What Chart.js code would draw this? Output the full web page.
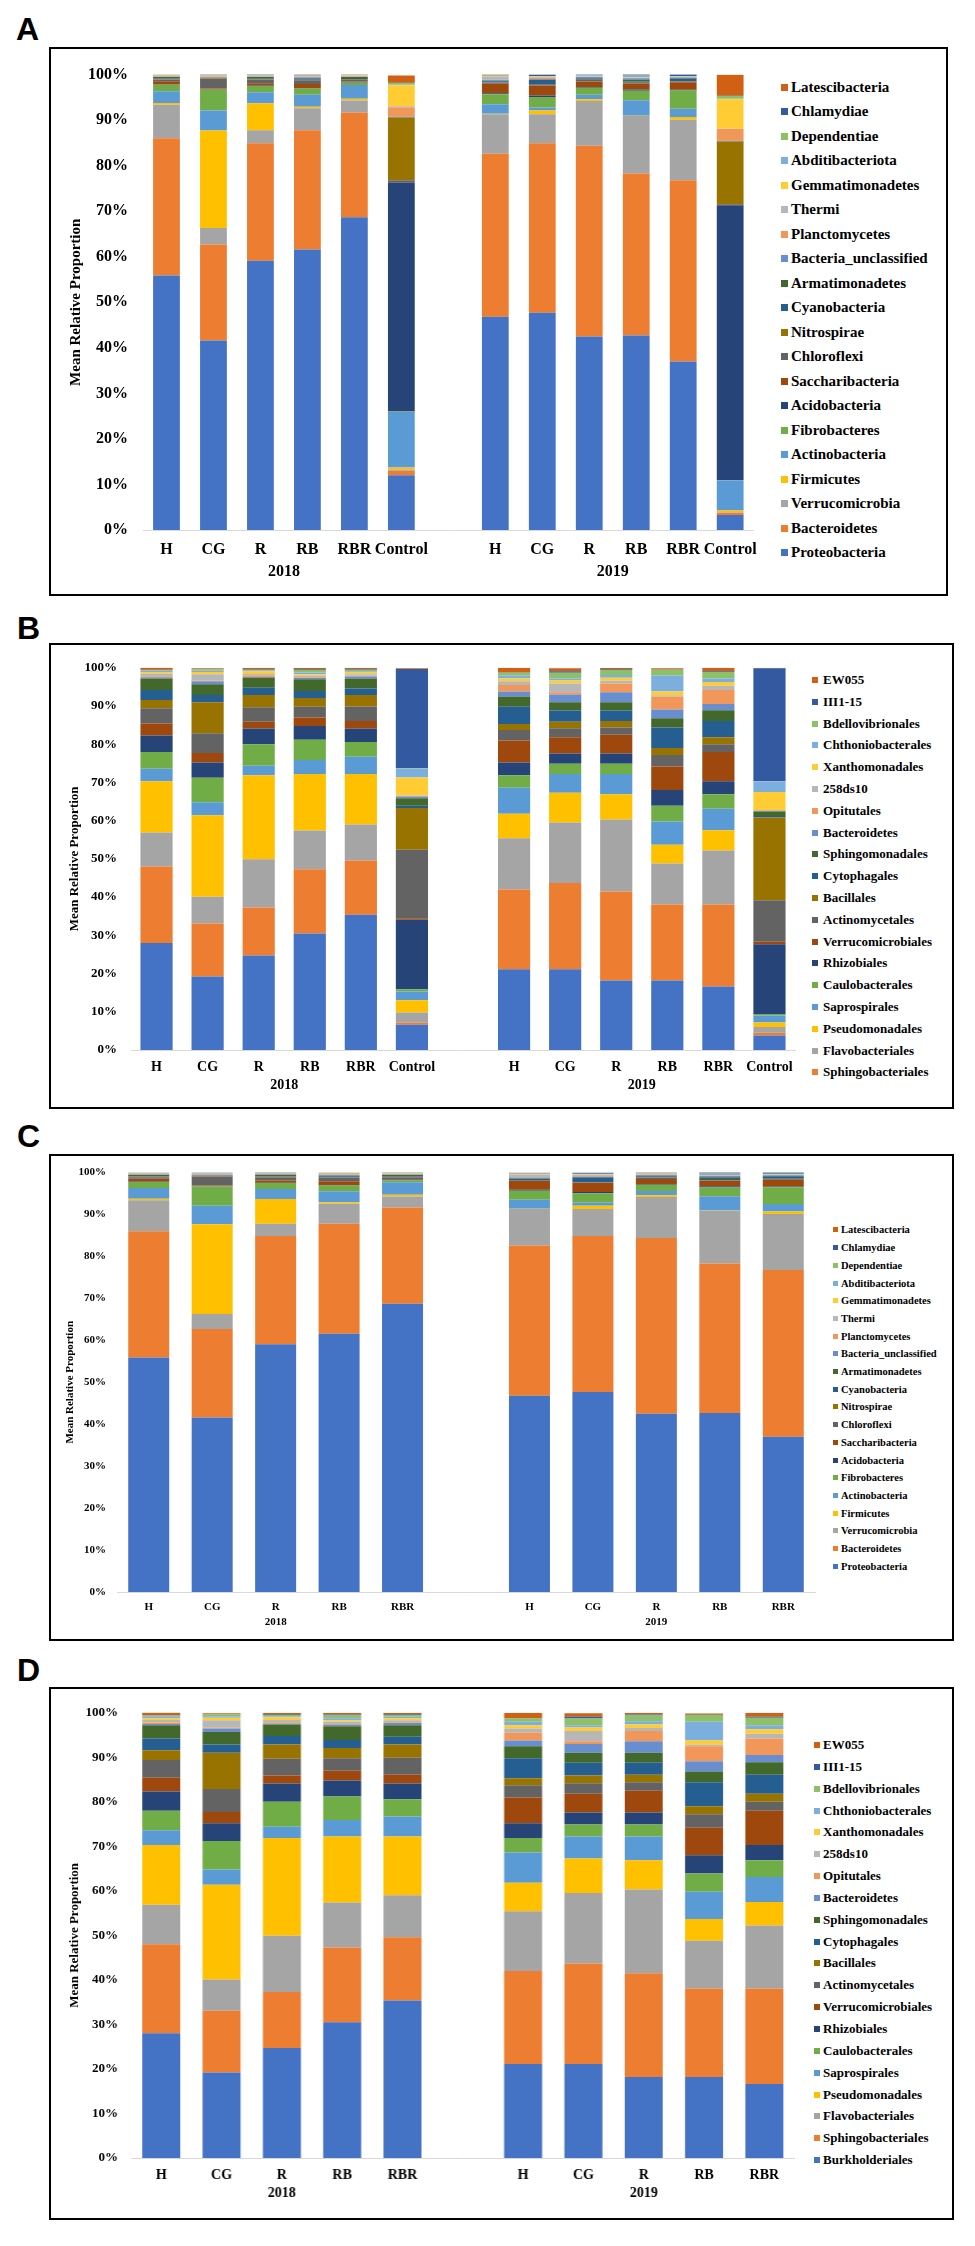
<!DOCTYPE html>
<html lang="en">
<head>
    <meta charset="UTF-8">
    <title>Mean Relative Proportion - phyla and orders</title>
    <script src="https://cdn.jsdelivr.net/npm/chart.js"></script>
    <style>
        body {
            margin: 0;
            background: #fff;
            width: 975px;
            height: 2246px;
            position: relative;
            font-family: "Liberation Serif", "Times New Roman", serif;
            overflow: hidden;
        }
        .tag {
            position: absolute;
            font: bold 32px/32px "Liberation Sans", Arial, sans-serif;
            color: #000;
        }
        .box {
            position: absolute;
            border: 2px solid #000;
            box-sizing: border-box;
        }
        .plot {
            position: absolute;
        }
        .legend-item {
            position: absolute;
            display: flex;
            align-items: center;
            font-weight: bold;
            color: #000;
            white-space: nowrap;
        }
        .legend-item span.mark {
            display: inline-block;
            flex: none;
        }
    </style>
</head>
<body>
    <div class="tag" style="left:16px; top:13px;">A</div>
    <div class="tag" style="left:17px; top:612px;">B</div>
    <div class="tag" style="left:17px; top:1120px;">C</div>
    <div class="tag" style="left:17px; top:1654px;">D</div>

    <div class="box" style="left:49px; top:47px; width:899px; height:549px;"></div>
    <div class="box" style="left:49px; top:643px; width:905px; height:466px;"></div>
    <div class="box" style="left:49px; top:1154px; width:905px; height:487px;"></div>
    <div class="box" style="left:49px; top:1687px; width:905px; height:533px;"></div>

    <div class="plot" id="wrapA"><canvas id="chartA"></canvas></div>
    <div class="plot" id="wrapB"><canvas id="chartB"></canvas></div>
    <div class="plot" id="wrapC"><canvas id="chartC"></canvas></div>
    <div class="plot" id="wrapD"><canvas id="chartD"></canvas></div>
    <div id="legends"></div>

    <script>
        // sample labels and years
        const samples = ['H', 'CG', 'R', 'RB', 'RBR', 'Control'];
        const years = ['2018', '2019'];

        // phyla, bottom of the stack first (values: 2018 H,CG,R,RB,RBR,Control, 2019 H,CG,R,RB,RBR,Control)
        const phylumNames = ['Proteobacteria', 'Bacteroidetes', 'Verrucomicrobia', 'Firmicutes', 'Actinobacteria',
            'Fibrobacteres', 'Acidobacteria', 'Saccharibacteria', 'Chloroflexi', 'Nitrospirae', 'Cyanobacteria',
            'Armatimonadetes', 'Bacteria_unclassified', 'Planctomycetes', 'Thermi', 'Gemmatimonadetes',
            'Abditibacteriota', 'Dependentiae', 'Chlamydiae', 'Latescibacteria'];

        const proteobacteria = [55.9, 41.6, 59.1, 61.6, 68.7, 12.0, 46.8, 47.7, 42.5, 42.7, 37.0, 3.3];
        const bacteroidetes = [30.1, 21.1, 25.8, 26.2, 23.0, 1.0, 35.8, 37.2, 41.9, 35.6, 39.8, 0.5];
        const verrucomicrobia = [7.4, 3.6, 2.9, 4.8, 2.6, 0.3, 8.7, 6.4, 9.8, 12.6, 13.3, 0.1];
        const firmicutes = [0.35, 21.4, 5.9, 0.35, 0.4, 0.4, 0.1, 0.8, 0.4, 0.05, 0.6, 0.4];
        const actinobacteria = [2.6, 4.4, 2.4, 2.6, 3.0, 12.2, 2.1, 0.7, 1.0, 3.4, 1.8, 6.6];
        const fibrobacteres = [1.4, 4.6, 1.4, 1.4, 0.5, 0.1, 2.2, 2.3, 1.5, 2.1, 4.0, 0.1];
        const acidobacteria = [0.1, 0.05, 0.1, 0.1, 0.1, 50.3, 0.2, 0.3, 0.2, 0.3, 0.2, 60.3];
        const saccharibacteria = [0.7, 0.2, 0.5, 0.9, 0.2, 0.1, 2.1, 2.2, 1.2, 1.3, 1.6, 0.1];
        const chloroflexi = [0.35, 2.1, 0.8, 0.8, 0.4, 0.4, 0.2, 0.1, 0.3, 0.1, 0.2, 0.2];
        const nitrospirae = [0.1, 0.1, 0.1, 0.1, 0.05, 13.8, 0.05, 0.05, 0.05, 0.05, 0.05, 13.7];
        const cyanobacteria = [0.15, 0.1, 0.1, 0.3, 0.1, 0.05, 0.3, 1.1, 0.3, 0.3, 0.6, 0.05];
        const armatimonadetes = [0.3, 0.05, 0.4, 0.1, 0.4, 0.05, 0.1, 0.1, 0.1, 0.4, 0.1, 0.05];
        const bacteriaUnclassified = [0.1, 0.1, 0.05, 0.15, 0.1, 0.05, 0.2, 0.1, 0.2, 0.3, 0.1, 0.05];
        const planctomycetes = [0.1, 0.2, 0.1, 0.1, 0.1, 2.1, 0.1, 0.3, 0.1, 0.1, 0.1, 2.6];
        const thermi = [0.05, 0.1, 0.05, 0.15, 0.1, 0.2, 0.6, 0.2, 0.1, 0.1, 0.05, 0.05];
        const gemmatimonadetes = [0.05, 0.05, 0.05, 0.05, 0.05, 4.6, 0.05, 0.05, 0.05, 0.05, 0.05, 6.5];
        const abditibacteriota = [0.05, 0.05, 0.05, 0.05, 0.05, 0.1, 0.1, 0.05, 0.1, 0.3, 0.1, 0.1];
        const dependentiae = [0.05, 0.05, 0.05, 0.05, 0.05, 0.4, 0.1, 0.05, 0.05, 0.05, 0.05, 0.6];
        const chlamydiae = [0.05, 0.15, 0.2, 0.05, 0.05, 0.05, 0.05, 0.3, 0.2, 0.3, 0.4, 0.05];
        const latescibacteria = [0.1, 0.05, 0.05, 0.2, 0.15, 1.6, 0.2, 0.05, 0.05, 0.05, 0.05, 4.6];

        const phylumValues = [proteobacteria, bacteroidetes, verrucomicrobia, firmicutes, actinobacteria,
            fibrobacteres, acidobacteria, saccharibacteria, chloroflexi, nitrospirae, cyanobacteria,
            armatimonadetes, bacteriaUnclassified, planctomycetes, thermi, gemmatimonadetes,
            abditibacteriota, dependentiae, chlamydiae, latescibacteria];

        // orders, bottom of the stack first
        const orderNames = ['Burkholderiales', 'Sphingobacteriales', 'Flavobacteriales', 'Pseudomonadales',
            'Saprospirales', 'Caulobacterales', 'Rhizobiales', 'Verrucomicrobiales', 'Actinomycetales',
            'Bacillales', 'Cytophagales', 'Sphingomonadales', 'Bacteroidetes', 'Opitutales', '258ds10',
            'Xanthomonadales', 'Chthoniobacterales', 'Bdellovibrionales', 'III1-15', 'EW055'];

        const burkholderiales = [28.0, 19.2, 24.7, 30.5, 35.4, 6.6, 21.1, 21.1, 18.2, 18.2, 16.6, 3.8];
        const sphingobacteriales = [20.0, 13.9, 12.6, 16.8, 14.2, 0.5, 20.9, 22.6, 23.3, 19.9, 21.5, 0.7];
        const flavobacteriales = [8.9, 7.0, 12.6, 10.1, 9.4, 2.7, 13.4, 15.8, 18.8, 10.7, 14.1, 1.5];
        const pseudomonadales = [13.4, 21.3, 22.0, 14.8, 13.2, 3.2, 6.4, 7.8, 6.6, 4.9, 5.3, 1.2];
        const saprospirales = [3.3, 3.4, 2.5, 3.7, 4.5, 2.3, 6.8, 4.9, 5.3, 6.1, 5.6, 1.8];
        const caulobacterales = [4.4, 6.4, 5.6, 5.3, 3.9, 0.6, 3.3, 2.7, 2.7, 4.1, 3.8, 0.4];
        const rhizobiales = [4.3, 4.0, 4.1, 3.6, 3.5, 18.2, 3.3, 2.7, 2.7, 4.1, 3.4, 18.3];
        const verrucomicrobiales = [3.1, 2.5, 1.8, 2.2, 2.0, 0.4, 5.8, 4.2, 4.9, 6.2, 7.7, 0.6];
        const actinomycetales = [4.0, 5.2, 3.8, 2.8, 3.8, 17.9, 2.7, 2.4, 1.9, 3.0, 2.0, 10.9];
        const bacillales = [2.2, 8.1, 3.2, 2.3, 3.0, 10.9, 1.6, 1.7, 1.7, 1.8, 1.8, 21.6];
        const cytophagales = [2.6, 1.9, 1.9, 1.8, 1.7, 0.6, 4.5, 2.9, 2.7, 5.4, 4.3, 0.4];
        const sphingomonadales = [3.0, 2.8, 2.6, 3.1, 2.6, 2.0, 2.7, 2.2, 2.2, 2.4, 2.8, 1.2];
        const bacteroidetesOrder = [0.3, 0.8, 0.2, 0.3, 0.5, 0.4, 1.3, 2.0, 2.6, 2.3, 1.6, 0.2];
        const opitutales = [0.3, 0.2, 0.3, 0.2, 0.2, 0.2, 1.7, 0.6, 2.3, 3.4, 3.7, 0.1];
        const ds258 = [0.6, 1.6, 0.5, 0.5, 0.4, 0.1, 1.0, 2.3, 0.7, 0.3, 1.1, 0.1];
        const xanthomonadales = [0.4, 0.6, 0.6, 0.3, 0.5, 4.7, 0.7, 0.8, 0.8, 1.0, 1.0, 4.7];
        const chthoniobacterales = [0.4, 0.3, 0.2, 0.5, 0.3, 2.3, 0.8, 0.5, 0.7, 4.2, 0.9, 2.8];
        const bdellovibrionales = [0.2, 0.4, 0.3, 0.6, 0.4, 0.1, 0.7, 1.5, 1.3, 1.5, 1.7, 0.1];
        const iii115 = [0.1, 0.1, 0.2, 0.2, 0.2, 26.0, 0.1, 0.4, 0.2, 0.05, 0.2, 29.5];
        const ew055 = [0.6, 0.2, 0.3, 0.4, 0.3, 0.2, 1.2, 0.8, 0.4, 0.3, 0.9, 0.1];

        const orderValues = [burkholderiales, sphingobacteriales, flavobacteriales, pseudomonadales,
            saprospirales, caulobacterales, rhizobiales, verrucomicrobiales, actinomycetales, bacillales,
            cytophagales, sphingomonadales, bacteroidetesOrder, opitutales, ds258, xanthomonadales,
            chthoniobacterales, bdellovibrionales, iii115, ew055];

        // Excel-like series colours, same sequence for both charts
        const seriesColors = ['#4472C4', '#ED7D31', '#A5A5A5', '#FFC000', '#5B9BD5', '#70AD47',
            '#264478', '#9E480E', '#636363', '#997300', '#255E91', '#43682B',
            '#698ED0', '#F1975A', '#B7B7B7', '#FFCD33', '#7CAFDD', '#8CC168',
            '#335AA1', '#D26012'];

        // panel layout (pixel geometry of each panel)
        const panels = {
            A: { left: 143, right: 759, top: 63, bottom: 530, canvasLeft: 67, padTop: 13, xh: 60,
                 tick: 16, title: 15, xfont: 16, year: 16, tickPad: 15, xPad: 10, yearOff: 42, bar: 0.57,
                 lx: 781, ly: 87, lstep: 24.5, lfont: 15, lbox: 7, lgap: 3 },
            B: { left: 131, right: 795, top: 659, bottom: 1050, canvasLeft: 67, padTop: 13, xh: 50,
                 tick: 13, title: 13, xfont: 14, year: 14, tickPad: 14, xPad: 8.6, yearOff: 35, bar: 0.63,
                 lx: 812, ly: 680, lstep: 21.8, lfont: 13, lbox: 6, lgap: 5 },
            C: { left: 117, right: 815, top: 1167, bottom: 1592, canvasLeft: 64, padTop: 12, xh: 42,
                 tick: 11, title: 11, xfont: 11, year: 11, tickPad: 11, xPad: 9, yearOff: 30, bar: 0.646,
                 lx: 833, ly: 1230, lstep: 17.7, lfont: 10.5, lbox: 5, lgap: 3 },
            D: { left: 131, right: 793.5, top: 1704, bottom: 2158, canvasLeft: 67, padTop: 12, xh: 50,
                 tick: 13, title: 13, xfont: 14, year: 14, tickPad: 13, xPad: 9.4, yearOff: 35, bar: 0.63,
                 lx: 813.6, ly: 1745, lstep: 21.85, lfont: 13, lbox: 6, lgap: 3.5 }
        };

        Chart.defaults.font.family = '"Liberation Serif", "Times New Roman", serif';
        Chart.defaults.font.weight = 'bold';
        Chart.defaults.color = '#000';

        // draws the year under each group of bars
        const yearLabels = {
            id: 'yearLabels',
            afterDraw(chart, args, opts) {
                const { ctx, chartArea, scales: { x } } = chart;
                ctx.save();
                ctx.font = 'bold ' + opts.size + 'px "Liberation Serif", serif';
                ctx.fillStyle = '#000';
                ctx.textAlign = 'center';
                ctx.textBaseline = 'middle';
                opts.groups.forEach(g => {
                    const cx = (x.getPixelForValue(g.from) + x.getPixelForValue(g.to)) / 2;
                    ctx.fillText(g.text, cx, chartArea.bottom + opts.offset);
                });
                ctx.restore();
            }
        };

        // split 12 values into the two years, with an empty slot between them
        function withGap(vals, withControl) {
            const n = withControl ? 6 : 5;
            return vals.slice(0, n).concat([null], vals.slice(6, 6 + n));
        }

        function buildPanel(key, names, values, withControl, hideInLegend) {
            const p = panels[key];
            const n = withControl ? 6 : 5;
            const groupLabels = samples.slice(0, n);
            const labels = groupLabels.concat([''], groupLabels);

            const wrap = document.getElementById('wrap' + key);
            const canvasTop = p.top - p.padTop;
            wrap.style.left = p.canvasLeft + 'px';
            wrap.style.top = canvasTop + 'px';
            wrap.style.width = (p.right + 8 - p.canvasLeft) + 'px';
            wrap.style.height = (p.bottom - canvasTop + p.xh) + 'px';

            const datasets = names.map((name, i) => ({
                label: name,
                data: withGap(values[i], withControl),
                backgroundColor: seriesColors[i],
                borderWidth: 0,
                barPercentage: 1,
                categoryPercentage: p.bar
            }));

            new Chart(document.getElementById('chart' + key), {
                type: 'bar',
                data: { labels: labels, datasets: datasets },
                options: {
                    responsive: true,
                    maintainAspectRatio: false,
                    animation: false,
                    layout: { padding: { top: p.padTop, right: 8, left: 0, bottom: 0 } },
                    plugins: {
                        legend: { display: false },
                        tooltip: { enabled: false },
                        yearLabels: {
                            size: p.year,
                            offset: p.yearOff,
                            groups: [
                                { text: years[0], from: 0, to: n - 1 },
                                { text: years[1], from: n + 1, to: 2 * n }
                            ]
                        }
                    },
                    scales: {
                        x: {
                            stacked: true,
                            grid: { display: false, drawTicks: false },
                            border: { display: true, color: '#d9d9d9', width: 1 },
                            ticks: {
                                autoSkip: false,
                                maxRotation: 0,
                                padding: p.xPad,
                                color: '#000',
                                font: { size: p.xfont, weight: 'bold' }
                            },
                            afterFit(scale) { scale.height = p.xh; }
                        },
                        y: {
                            stacked: true,
                            min: 0,
                            max: 100,
                            grid: { display: false, drawTicks: false },
                            border: { display: false },
                            ticks: {
                                stepSize: 10,
                                padding: p.tickPad,
                                color: '#000',
                                font: { size: p.tick, weight: 'bold' },
                                callback: v => v + '%'
                            },
                            title: {
                                display: true,
                                text: 'Mean Relative Proportion',
                                padding: 0,
                                color: '#000',
                                font: { size: p.title, weight: 'bold' }
                            },
                            afterFit(scale) { scale.width = p.left - p.canvasLeft; }
                        }
                    }
                },
                plugins: [yearLabels]
            });

            // legend, top entry is the top of the stack
            const holder = document.getElementById('legends');
            const order = names.map((name, i) => i).reverse().filter(i => !hideInLegend.includes(names[i]));
            order.forEach((idx, row) => {
                const item = document.createElement('div');
                item.className = 'legend-item';
                item.style.left = p.lx + 'px';
                item.style.top = (p.ly + row * p.lstep - p.lstep / 2) + 'px';
                item.style.height = p.lstep + 'px';
                item.style.fontSize = p.lfont + 'px';
                const mark = document.createElement('span');
                mark.className = 'mark';
                mark.style.width = p.lbox + 'px';
                mark.style.height = p.lbox + 'px';
                mark.style.marginRight = p.lgap + 'px';
                mark.style.background = seriesColors[idx];
                item.appendChild(mark);
                item.appendChild(document.createTextNode(names[idx]));
                holder.appendChild(item);
            });
        }

        buildPanel('A', phylumNames, phylumValues, true, []);
        buildPanel('B', orderNames, orderValues, true, ['Burkholderiales']);
        buildPanel('C', phylumNames, phylumValues, false, []);
        buildPanel('D', orderNames, orderValues, false, []);
    </script>
</body>
</html>
